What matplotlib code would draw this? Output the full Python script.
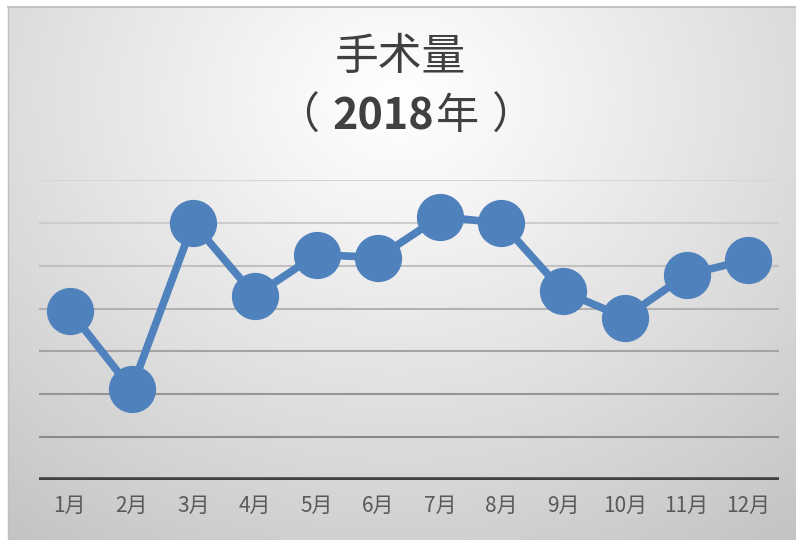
import numpy as np
import matplotlib
matplotlib.use("Agg")
import matplotlib.pyplot as plt

plt.rcParams['font.family'] = ['Noto Sans CJK SC', 'DejaVu Sans']

months = ["1月", "2月", "3月", "4月", "5月", "6月", "7月", "8月", "9月", "10月", "11月", "12月"]
values = [3.95, 2.12, 6.0, 4.30, 5.26, 5.19, 6.14, 6.0, 4.40, 3.79, 4.79, 5.14]
grid_levels = [1, 2, 3, 4, 5, 6, 7]
grid_colors = ["#8a8a8a", "#969696", "#a4a4a4", "#b2b2b2", "#c0c0c0", "#cccccc", "#d6d6d6"]
title_line1 = "手术量"
title_parts = [("（", "normal"), ("2018", "bold"), ("年", "normal"), ("）", "normal")]
title_gaps = [14, 2, 12, 0]

W, H = 796, 540
fig = plt.figure(figsize=(W / 100, H / 100), dpi=100)
fig.patch.set_facecolor("white")

# background radial gradient panel
bg = fig.add_axes([8 / W, 0, (W - 8) / W, (H - 7) / H])
bg.set_axis_off()
yy, xx = np.mgrid[0:H - 7, 0:W - 8]
cx, cy = 390, 90
d = np.sqrt(((xx - cx) / 560.0) ** 2 + ((yy - cy) / 480.0) ** 2)
d = np.clip(d, 0, 1.2)
shade = 1.0 - 0.20 * d ** 1.1
img = np.dstack([shade, shade, shade])
bg.imshow(img, aspect="auto", extent=[0, 1, 0, 1], origin="upper")
bg.set_xlim(0, 1)
bg.set_ylim(0, 1)
bg.plot([0, 1], [1, 1], color="#b8b8b8", lw=1.2, transform=bg.transAxes, clip_on=False)
bg.plot([0, 0], [0, 1], color="#c0c0c0", lw=1.0, transform=bg.transAxes, clip_on=False)

ax = fig.add_axes([39 / W, 60 / H, 740 / W, 300 / H])
ax.patch.set_alpha(0)
x = np.arange(len(months))
for lvl, c in zip(grid_levels, grid_colors):
    ax.axhline(lvl, color=c, lw=1.5, zorder=1)
ax.axhline(0, color="#404040", lw=4, zorder=2)
ax.plot(x, values, color="#4f81bd", lw=5.5, marker="o", markersize=33,
        markerfacecolor="#4f81bd", markeredgecolor="#4f81bd", zorder=3, clip_on=False)
ax.set_xlim(-0.5, len(months) - 0.5)
ax.set_ylim(0, 7)
for s in ax.spines.values():
    s.set_visible(False)
ax.set_yticks([])
ax.set_xticks(x)
ax.set_xticklabels(months, fontsize=15, color="#595959")
ax.tick_params(axis="x", length=0, pad=11)

fig.text(400 / W, 1 - 57 / H, title_line1, ha="center", va="center", fontsize=31.5, color="#404040")

# second title line, laid out piece by piece
renderer = fig.canvas.get_renderer()
texts = []
for s, wgt in title_parts:
    t = fig.text(0, 1 - 117 / H, s, ha="left", va="center", fontsize=31,
                 color="#404040", fontweight=wgt)
    texts.append(t)
widths = [t.get_window_extent(renderer).width for t in texts]
total = sum(widths) + sum(title_gaps)
xpos = 405 - total / 2
for t, w, g in zip(texts, widths, title_gaps):
    t.set_x(xpos / W)
    xpos += w + g

fig.savefig("out.png", dpi=100)
